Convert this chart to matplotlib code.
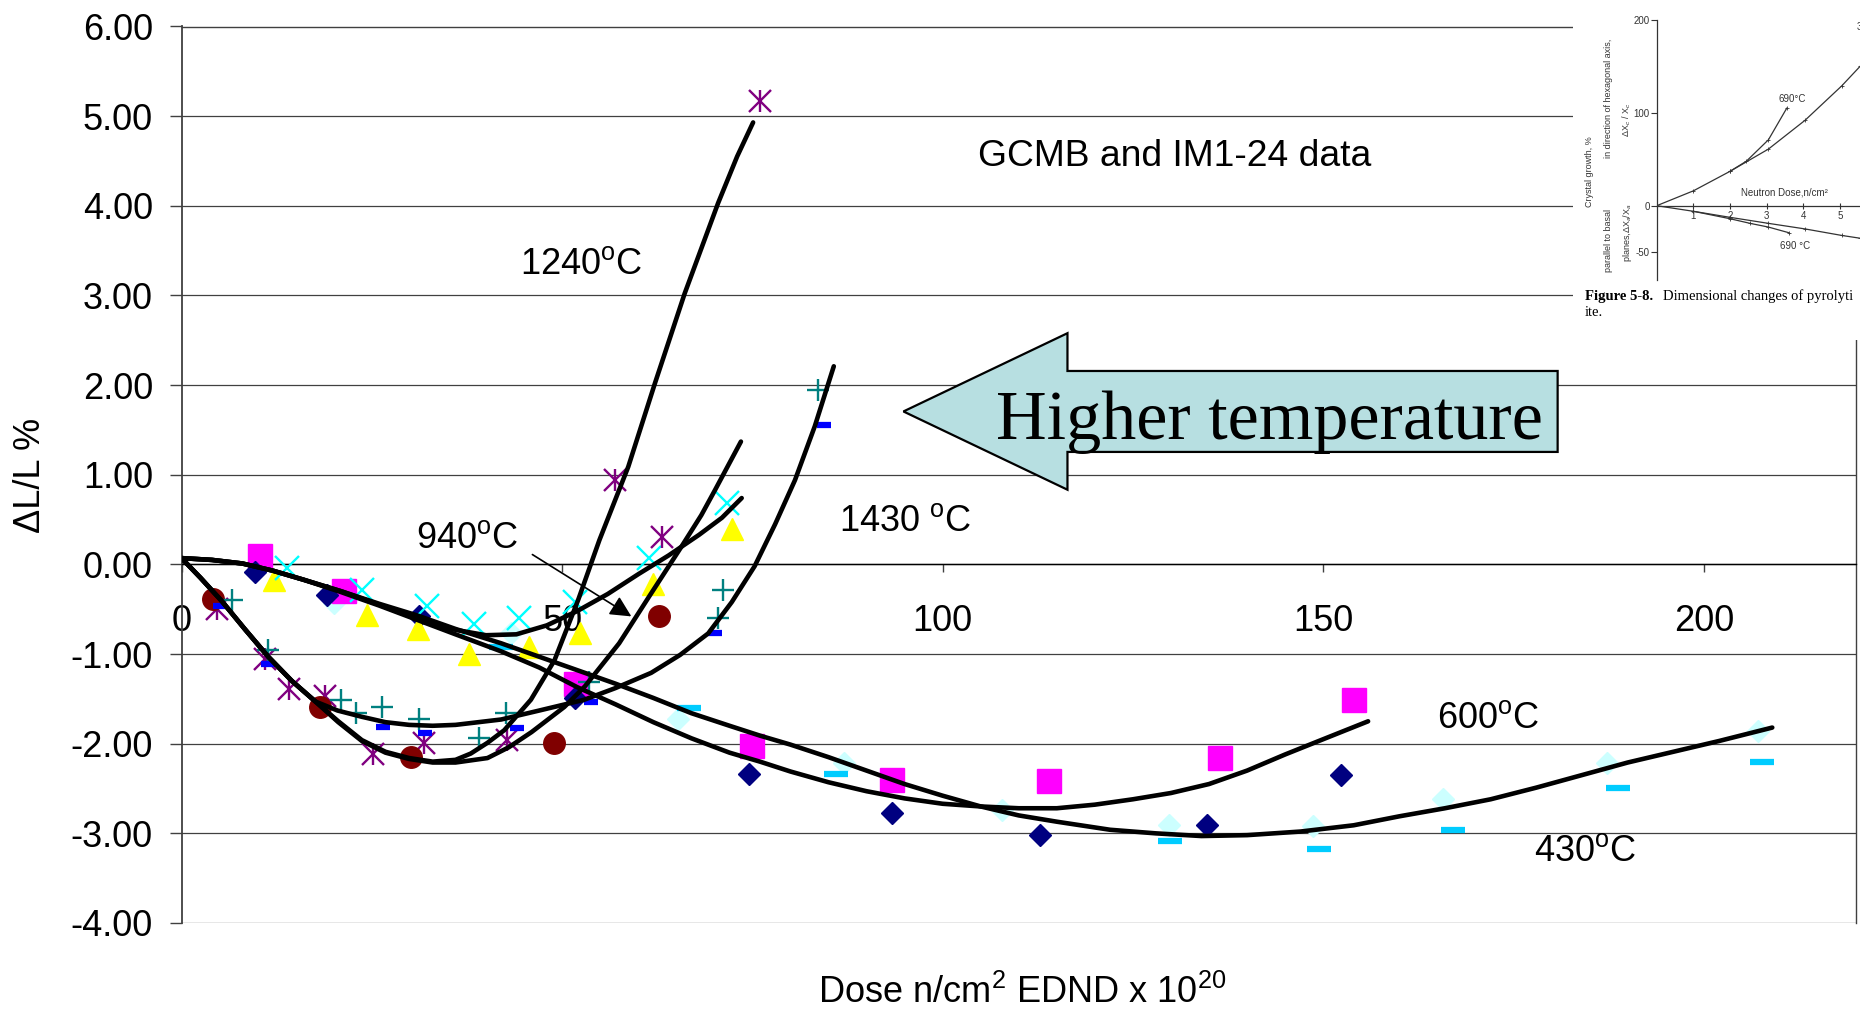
import matplotlib
matplotlib.use('Agg')
import matplotlib.pyplot as plt
from matplotlib.patches import FancyArrow

plt.rcParams['font.family'] = ['Liberation Sans', 'DejaVu Sans']
plt.rcParams['mathtext.fontset'] = 'custom'
plt.rcParams['mathtext.rm'] = 'Liberation Sans'
plt.rcParams['mathtext.it'] = 'Liberation Sans:italic'
plt.rcParams['mathtext.bf'] = 'Liberation Sans:bold'

# ---------------- data: measured points (dose x1e20 n/cm2, dL/L %) ----------------
lc_diamond_x = [20.1, 43.3, 65.2, 87.1, 107.8, 129.8, 148.7, 165.8, 187.3, 207.1]
lc_diamond_y = [-0.43, -0.77, -1.72, -2.22, -2.74, -2.91, -2.92, -2.62, -2.21, -1.86]
sky_dash_x = [42.0, 66.7, 86.0, 129.9, 149.4, 167.1, 188.7, 207.7]
sky_dash_y = [-0.92, -1.60, -2.34, -3.09, -3.17, -2.96, -2.49, -2.20]
mag_square_x = [10.3, 21.3, 51.8, 75.0, 93.3, 114.0, 136.5, 154.1]
mag_square_y = [0.09, -0.30, -1.33, -2.03, -2.40, -2.42, -2.16, -1.51]
navy_diamond_x = [9.7, 19.1, 31.2, 51.7, 74.5, 93.3, 112.8, 134.7, 152.3]
navy_diamond_y = [-0.08, -0.34, -0.58, -1.49, -2.34, -2.77, -3.02, -2.91, -2.35]
yellow_tri_x = [12.1, 24.4, 31.1, 37.8, 45.6, 52.4, 61.9, 72.3]
yellow_tri_y = [-0.17, -0.56, -0.72, -1.00, -0.92, -0.76, -0.22, 0.39]
cyan_x_x = [13.9, 23.7, 32.3, 38.4, 44.4, 51.7, 61.4, 71.7]
cyan_x_y = [-0.04, -0.29, -0.46, -0.66, -0.60, -0.42, 0.07, 0.69]
purple_ast_x = [4.6, 11.0, 14.1, 18.9, 25.1, 31.9, 42.8, 57.0, 63.1, 76.0]
purple_ast_y = [-0.50, -1.05, -1.39, -1.47, -2.11, -1.99, -1.96, 0.94, 0.31, 5.17]
red_circle_x = [4.2, 18.2, 30.1, 48.9, 62.7]
red_circle_y = [-0.39, -1.59, -2.15, -1.99, -0.57]
teal_plus_x = [6.7, 11.4, 20.9, 22.9, 26.4, 31.2, 39.1, 42.6, 53.6, 70.5, 71.1, 83.6]
teal_plus_y = [-0.40, -0.95, -1.51, -1.66, -1.59, -1.73, -1.94, -1.66, -1.31, -0.60, -0.28, 1.95]
blue_dash_x = [5.1, 11.4, 26.5, 32.0, 44.1, 53.8, 70.1, 84.4]
blue_dash_y = [-0.46, -1.11, -1.81, -1.88, -1.83, -1.54, -0.76, 1.55]

# ---------------- data: trend curves ----------------
curve430_x = [0, 4, 8, 12, 16, 21, 26, 31, 36, 42, 47, 52, 57, 62, 67, 72, 76, 80, 85, 90, 95,
              100, 105, 110, 115, 122, 128, 134, 140, 147, 154, 160, 166, 172, 178, 184, 190,
              196, 202, 209]
curve430_y = [0.07, 0.05, 0.01, -0.07, -0.17, -0.30, -0.44, -0.57, -0.72, -0.88, -1.03, -1.18,
              -1.33, -1.49, -1.66, -1.80, -1.91, -2.01, -2.15, -2.30, -2.45, -2.58, -2.70, -2.80,
              -2.87, -2.96, -3.00, -3.03, -3.02, -2.98, -2.91, -2.81, -2.72, -2.62, -2.49, -2.35,
              -2.21, -2.09, -1.97, -1.82]
curve600_x = [0, 4, 8, 12, 16, 21, 26, 31, 36, 42, 47, 52, 57, 62, 67, 72, 76, 80, 85, 90, 95,
              100, 105, 110, 115, 120, 125, 130, 135, 140, 145, 150, 155.9]
curve600_y = [0.07, 0.05, 0.01, -0.07, -0.17, -0.31, -0.46, -0.62, -0.78, -0.97, -1.15, -1.37,
              -1.56, -1.76, -1.94, -2.10, -2.20, -2.31, -2.43, -2.53, -2.61, -2.67, -2.70, -2.72,
              -2.72, -2.68, -2.62, -2.55, -2.45, -2.30, -2.12, -1.95, -1.75]
curve940_x = [0, 4, 8, 12, 16, 21, 26, 31, 36, 40, 44, 48, 52, 56, 60, 64, 68, 71, 73.6]
curve940_y = [0.07, 0.05, 0.01, -0.07, -0.17, -0.30, -0.45, -0.61, -0.73, -0.79, -0.78, -0.68,
              -0.52, -0.33, -0.11, 0.10, 0.33, 0.52, 0.74]
curve1240a_x = [0, 2.5, 5.3, 8.3, 11.4, 14.5, 17.6, 20.6, 23.7, 26.8, 29.9, 33, 36, 38, 40.2,
                42.4, 45.9, 49, 52.1, 54.9, 58.7, 62.2, 66.1, 70.5, 73, 75.1]
curve1240a_y = [0.07, -0.15, -0.41, -0.72, -1.03, -1.30, -1.53, -1.75, -1.96, -2.09, -2.16,
                -2.20, -2.18, -2.11, -1.99, -1.85, -1.51, -1.07, -0.40, 0.27, 1.09, 2.02, 3.02,
                4.03, 4.55, 4.93]
curve1240b_x = [0, 2.5, 5.3, 8.3, 11.4, 14.5, 17.6, 20.6, 23.7, 26.8, 29.9, 33, 36, 40.2, 43,
                46, 50.3, 53, 57.5, 61.5, 65.7, 68.3, 70.1, 73.5]
curve1240b_y = [0.07, -0.15, -0.41, -0.72, -1.03, -1.30, -1.53, -1.76, -1.97, -2.10, -2.17,
                -2.21, -2.21, -2.16, -2.04, -1.87, -1.59, -1.36, -0.88, -0.35, 0.20, 0.55, 0.83,
                1.37]
curve1430_x = [0, 2.5, 5.3, 8.3, 11.4, 14.5, 17.6, 20.5, 23.7, 26.8, 29.9, 33, 36, 42, 47,
               52.9, 57, 61.7, 65.5, 69.2, 72.3, 75.3, 78, 80.6, 83.2, 85.7]
curve1430_y = [0.07, -0.15, -0.41, -0.72, -1.03, -1.30, -1.53, -1.63, -1.70, -1.76, -1.79,
               -1.80, -1.79, -1.73, -1.63, -1.51, -1.38, -1.21, -1.01, -0.77, -0.42, -0.02, 0.45,
               0.94, 1.54, 2.21]

# inset (book figure 5-8): neutron dose vs crystal growth %
inset_c_x = [0, 1, 2, 3.05, 4.05, 5.05, 5.55]
inset_c_y = [0, 16, 37, 61, 92, 129, 150]
inset_c690_x = [2.0, 2.45, 3.05, 3.55]
inset_c690_y = [37, 48, 71, 105]
inset_a_x = [0, 1, 2, 3.05, 4.05, 5.05, 5.55]
inset_a_y = [0, -6, -12.5, -19, -25, -32, -35]
inset_a690_x = [1, 2, 2.55, 3.05, 3.6]
inset_a690_y = [-6, -14, -19, -23, -29]

y_ticks = [-4, -3, -2, -1, 0, 1, 2, 3, 4, 5, 6]
x_ticks = [0, 50, 100, 150, 200]

# ---------------- figure ----------------
W, H = 1860, 1014
fig = plt.figure(figsize=(W / 100, H / 100), dpi=100)
ax = fig.add_axes([181.5 / W, 1 - 923 / H, (1856 - 181.5) / W, (923 - 26.5) / H])
ax.set_xlim(0, 220)
ax.set_ylim(-4, 6)
ax.set_axisbelow(True)

grid_c = '#404040'
ax.yaxis.grid(True, color=grid_c, lw=0.9)
for side in ['left', 'right', 'top']:
    ax.spines[side].set_color(grid_c)
    ax.spines[side].set_linewidth(1.0)
ax.spines['left'].set_linewidth(1.3)
ax.spines['bottom'].set_position(('data', 0))
ax.spines['bottom'].set_color('black')
ax.spines['bottom'].set_linewidth(1.0)

ax.set_yticks(y_ticks)
ax.set_yticklabels(['%.2f' % v for v in y_ticks])
ax.set_xticks(x_ticks)
ax.set_xticklabels([str(v) for v in x_ticks])
ax.tick_params(axis='y', direction='out', length=8.6, width=1, color=grid_c,
               pad=12, labelsize=26)
ax.tick_params(axis='x', direction='out', length=5.8, width=1, color=grid_c,
               pad=23, labelsize=26)

# markers
mk = dict(ls='none', zorder=3)
ax.plot(lc_diamond_x, lc_diamond_y, marker='D', ms=11.5, color='#CCFFFF', mec='#CCFFFF', **mk)
ax.plot(sky_dash_x, sky_dash_y, marker='_', ms=17, mew=4.5, color='#00CCFF', **mk)
ax.plot(mag_square_x, mag_square_y, marker='s', ms=17, color='#FF00FF', mec='#FF00FF', **mk)
ax.plot(navy_diamond_x, navy_diamond_y, marker='D', ms=11.5, color='#000080', mec='#000080', **mk)
ax.plot(yellow_tri_x, yellow_tri_y, marker='^', ms=16, color='#FFFF00', mec='#FFFF00', **mk)
ax.plot(cyan_x_x, cyan_x_y, marker='x', ms=17, mew=1.7, color='#00FFFF', **mk)
ax.plot(purple_ast_x, purple_ast_y, marker='x', ms=16, mew=1.7, color='#800080', **mk)
ax.plot(purple_ast_x, purple_ast_y, marker='|', ms=16, mew=1.7, color='#800080', **mk)
ax.plot(red_circle_x, red_circle_y, marker='o', ms=15.5, color='#800000', mec='#800000', **mk)
ax.plot(teal_plus_x, teal_plus_y, marker='+', ms=16, mew=1.7, color='#008080', **mk)
ax.plot(blue_dash_x, blue_dash_y, marker='_', ms=9.5, mew=4.5, color='#0000FF', **mk)

# trend curves
cv = dict(color='black', lw=3.3, zorder=4, solid_capstyle='round', solid_joinstyle='round')
for cx, cy in [(curve430_x, curve430_y), (curve600_x, curve600_y), (curve940_x, curve940_y),
               (curve1240a_x, curve1240a_y), (curve1240b_x, curve1240b_y),
               (curve1430_x, curve1430_y)]:
    ax.plot(cx, cy, **cv)

# labels
tl = dict(fontsize=26, color='black', va='baseline', ha='left', zorder=7)
ax.text(44.5, 3.24, '1240$^{\\mathrm{o}}$C', **tl)
ax.text(30.8, 0.184, '940$^{\\mathrm{o}}$C', **tl)
ax.text(86.4, 0.37, '1430 $^{\\mathrm{o}}$C', **tl)
ax.text(164.9, -1.82, '600$^{\\mathrm{o}}$C', **tl)
ax.text(177.7, -3.31, '430$^{\\mathrm{o}}$C', **tl)
ax.text(104.6, 4.44, 'GCMB and IM1-24 data', fontsize=26.8, color='black', va='baseline',
        ha='left', zorder=7)

ax.annotate('', xy=(59.1, -0.58), xytext=(46.1, 0.11),
            arrowprops=dict(arrowstyle='-|>', color='black', lw=1.2, mutation_scale=32,
                            shrinkA=0, shrinkB=0), zorder=6)

# big block arrow
ax.add_patch(FancyArrow(180.8, 1.706, -85.95, 0, width=0.903, head_width=1.746,
                        head_length=21.55, length_includes_head=True,
                        fc='#b7dfe1', ec='black', lw=1.6, zorder=5))
ax.text(142.9, 1.40, 'Higher temperature', fontsize=50.5, family='Liberation Serif',
        ha='center', va='baseline', zorder=6)

fig.text(30 / W, 1 - 475 / H, '\u0394L/L %', rotation=90, fontsize=26,
         ha='center', va='center')
fig.text(1022 / W, 1 - 1003 / H, 'Dose n/cm$^2$ EDND x 10$^{20}$', fontsize=26,
         ha='center', va='baseline')

# ---------------- inset (scanned book figure) ----------------
bg = fig.add_axes([1573 / W, 1 - 340 / H, (W - 1573) / W, 340 / H])
bg.set_facecolor('white')
bg.set_xticks([])
bg.set_yticks([])
for s in bg.spines.values():
    s.set_visible(False)
bg.set_zorder(10)

ins = fig.add_axes([1656.7 / W, 1 - 280 / H, (W - 1656.7) / W, 260 / H])
ins.set_zorder(11)
ins.patch.set_alpha(0)
ins.set_xlim(0, 5.55)
ins.set_ylim(-80, 200)
ins.spines['top'].set_visible(False)
ins.spines['right'].set_visible(False)
ins.spines['bottom'].set_position(('data', 0))
for s in ['left', 'bottom']:
    ins.spines[s].set_color('#333333')
    ins.spines[s].set_linewidth(0.9)
ins.set_xticks([1, 2, 3, 4, 5])
ins.set_xticklabels(['1', '2', '3', '4', '5'])
ins.set_yticks([200, 100, 0, -50])
ins.set_yticklabels(['200', '100', '0', '-50'])
ins.tick_params(axis='x', direction='inout', length=5, width=0.8, pad=1, labelsize=7,
                colors='#333333')
ins.tick_params(axis='y', direction='out', length=4, width=0.8, pad=1, labelsize=7,
                colors='#333333')
il = dict(color='#333333', lw=0.9, marker='+', ms=3, mew=0.6)
ins.plot(inset_c_x, inset_c_y, **il)
ins.plot(inset_c690_x, inset_c690_y, **il)
ins.plot(inset_a_x, inset_a_y, **il)
ins.plot(inset_a690_x, inset_a690_y, **il)
ins.text(3.7, 115, '690\u00b0C', fontsize=7, color='#333333', ha='center', va='center')
ins.text(3.78, -43, '690 \u00b0C', fontsize=7, color='#333333', ha='center', va='center')
ins.text(2.3, 14, 'Neutron Dose,n/cm\u00b2', fontsize=7, color='#333333', ha='left',
         va='center')
ins.text(5.45, 193, '3', fontsize=7, color='#333333', ha='left', va='center')

ft = dict(fontsize=6.5, color='#333333', rotation=90, ha='center', va='center', zorder=12)
fig.text(1589 / W, 1 - 172 / H, 'Crystal growth, %', **ft)
fig.text(1608 / W, 1 - 98 / H, 'in direction of hexagonal axis,', **ft)
fig.text(1627 / W, 1 - 120 / H, '\u0394X$_c$ / X$_c$', **ft)
fig.text(1608 / W, 1 - 240 / H, 'parallel to basal', **ft)
fig.text(1627 / W, 1 - 233 / H, 'planes,\u0394X$_a$/X$_a$', **ft)
fig.text(1585 / W, 1 - 300 / H, 'Figure 5-8.', fontsize=10.5, family='Liberation Serif',
         fontweight='bold', va='baseline', zorder=12)
fig.text(1663 / W, 1 - 300 / H, 'Dimensional changes of pyrolyti', fontsize=10.5,
         family='Liberation Serif', va='baseline', zorder=12)
fig.text(1585 / W, 1 - 316 / H, 'ite.', fontsize=10.5, family='Liberation Serif',
         va='baseline', zorder=12)

fig.savefig('out.png', dpi=100)
